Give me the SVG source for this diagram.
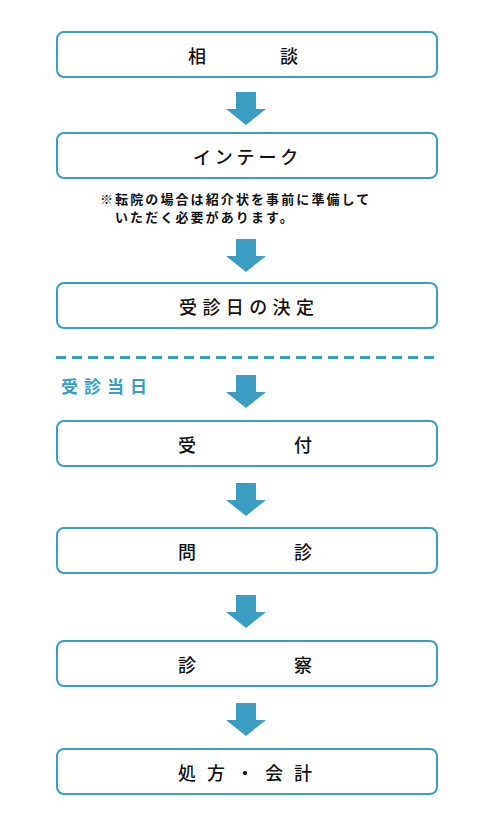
<svg xmlns="http://www.w3.org/2000/svg" width="500" height="830" viewBox="0 0 500 830">
<style>
.box{fill:#fff;stroke:#3b9dc4;stroke-width:2}
.arr{fill:#3b9dc4}
.t{font-family:"Noto Sans CJK JP","Noto Sans",sans-serif;font-size:18px;font-weight:500;fill:#111;dominant-baseline:central}
.note{font-family:"Noto Sans CJK JP","Noto Sans",sans-serif;font-size:13px;font-weight:700;fill:#111;letter-spacing:2.1px}
.lbl{font-family:"Noto Sans CJK JP","Noto Sans",sans-serif;font-size:17px;font-weight:700;fill:#3b9dc4;letter-spacing:6px;dominant-baseline:central}
</style>
<defs>
<polygon id="arrow" class="arr" points="236,0 256,0 256,17 266,17 246,33 226,17 236,17"/>
</defs>
<g id="connectors">
<use href="#arrow" y="92"/>
<use href="#arrow" y="239"/>
<use href="#arrow" y="375"/>
<use href="#arrow" y="483"/>
<use href="#arrow" y="595"/>
<use href="#arrow" y="703"/>
</g>
<g id="n1"><rect class="box" x="57" y="32" width="380" height="45" rx="7"/><text class="t" x="188" y="54.5" style="letter-spacing:5px">相　　　談</text></g>
<g id="n2"><rect class="box" x="57" y="133" width="380" height="45" rx="7"/><text class="t" x="193" y="155.5" style="letter-spacing:3.8px">インテーク</text></g>
<g id="note"><text class="note" x="100" y="204">※転院の場合は紹介状を事前に準備して</text><text class="note" x="115" y="222">いただく必要があります。</text></g>
<g id="n3"><rect class="box" x="57" y="283" width="380" height="45" rx="7"/><text class="t" x="179" y="305.5" style="letter-spacing:5.4px">受診日の決定</text></g>
<g id="divider"><line x1="56" y1="357.5" x2="438" y2="357.5" stroke="#3b9dc4" stroke-width="3" stroke-dasharray="10 6"/><text class="lbl" x="61" y="385">受診当日</text></g>
<g id="n4"><rect class="box" x="57" y="421" width="380" height="45" rx="7"/><text class="t" x="178" y="443.5" style="letter-spacing:11px">受　　　付</text></g>
<g id="n5"><rect class="box" x="57" y="528" width="380" height="45" rx="7"/><text class="t" x="178" y="550.5" style="letter-spacing:11px">問　　　診</text></g>
<g id="n6"><rect class="box" x="57" y="641" width="380" height="45" rx="7"/><text class="t" x="178" y="663.5" style="letter-spacing:11px">診　　　察</text></g>
<g id="n7"><rect class="box" x="57" y="749" width="380" height="45" rx="7"/><text class="t" x="178" y="771.5" style="letter-spacing:11px">処方・会計</text></g>
</svg>
